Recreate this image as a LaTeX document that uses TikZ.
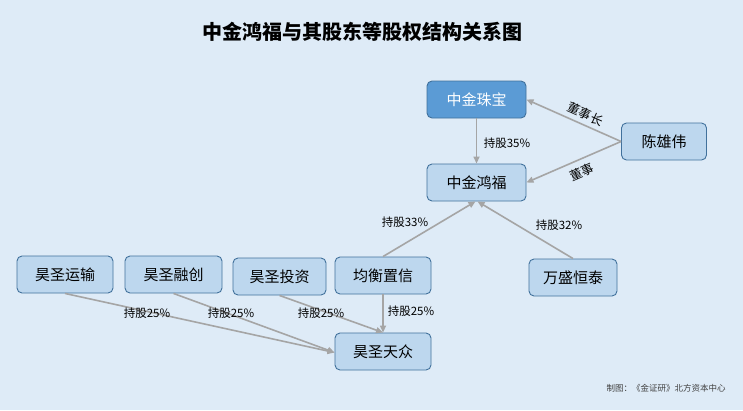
\documentclass[tikz,border=0pt]{standalone}
\usepackage{fontspec}
\setmainfont{Noto Sans CJK SC}
\usetikzlibrary{arrows.meta}
\definecolor{bg}{HTML}{DEEBF7}
\definecolor{boxfill}{HTML}{BDD7EE}
\definecolor{boxline}{HTML}{41719C}
\definecolor{darkfill}{HTML}{5B9BD5}
\definecolor{arrowgray}{HTML}{A5A5A5}
\tikzset{
  box/.style={draw=boxline, line width=0.9pt, fill=boxfill, rounded corners=5pt, inner sep=0pt, font=\fontsize{15}{15}\selectfont, text=black},
  darkbox/.style={box, fill=darkfill, text=white},
  link/.style={draw=arrowgray, line width=1.6pt, -{Triangle[length=7pt,width=6pt]}},
  lbl/.style={font=\fontsize{11.5}{12}\selectfont, text=black, inner sep=0pt},
  rlbl/.style={font=\fontsize{12.5}{13}\selectfont, text=black, inner sep=0pt},
}
\begin{document}
\begin{tikzpicture}[x=1pt,y=-1pt]
\fill[bg] (0,0) rectangle (743,410);
\useasboundingbox (0,0) rectangle (743,410);
\node[font=\bfseries\fontsize{20}{20}\selectfont] (title) at (362,32) {中金鸿福与其股东等股权结构关系图};
% nodes
\node[darkbox, minimum width=99pt, minimum height=37pt] (zb) at (476.5,99.5) {中金珠宝};
\node[box, minimum width=99pt, minimum height=37pt] (hf) at (476.5,182.5) {中金鸿福};
\node[box, minimum width=85pt, minimum height=37pt] (cxw) at (664,141.5) {陈雄伟};
\node[box, minimum width=88pt, minimum height=37pt] (ws) at (573,277.5) {万盛恒泰};
\node[box, minimum width=96pt, minimum height=37pt] (jh) at (383,275.5) {均衡置信};
\node[box, minimum width=96pt, minimum height=37pt] (ys) at (65,274.5) {昊圣运输};
\node[box, minimum width=97pt, minimum height=37pt] (rc) at (173.5,274.5) {昊圣融创};
\node[box, minimum width=93pt, minimum height=37pt] (tz) at (279.5,276.5) {昊圣投资};
\node[box, minimum width=96pt, minimum height=37pt] (tzh) at (383,351.5) {昊圣天众};
% connectors
\draw[link] (zb.south) -- (hf.north);
\draw[link] (cxw.west) -- (zb.east) node[pos=0.42, sloped, above=4pt, rlbl] (l1) {董事长};
\draw[link] (cxw.west) -- (hf.east) node[pos=0.47, sloped, below=6pt, rlbl] (l2) {董事};
\draw[link] (jh.north) -- ([xshift=-1pt]hf.south);
\draw[link] (ws.north) -- ([xshift=1pt]hf.south);
\draw[link] (ys.south) -- ([yshift=-1pt]tzh.west);
\draw[link] (rc.south) -- ([yshift=-1pt]tzh.west);
\draw[link] (tz.south) -- (tzh.north);
\draw[link] (jh.south) -- (tzh.north);
% labels
\node[lbl] (p35) at (507,143) {持股35\%};
\node[lbl] (p33) at (405,222) {持股33\%};
\node[lbl] (p32) at (559,225) {持股32\%};
\node[lbl] (p25a) at (147,313) {持股25\%};
\node[lbl] (p25b) at (231,313) {持股25\%};
\node[lbl] (p25c) at (321,313) {持股25\%};
\node[lbl] (p25d) at (411,311) {持股25\%};
\node[font=\fontsize{8.5}{9}\selectfont, text=black!75, inner sep=0pt] (foot) at (666,388) {制图：《金证研》北方资本中心};
\end{tikzpicture}
\end{document}
